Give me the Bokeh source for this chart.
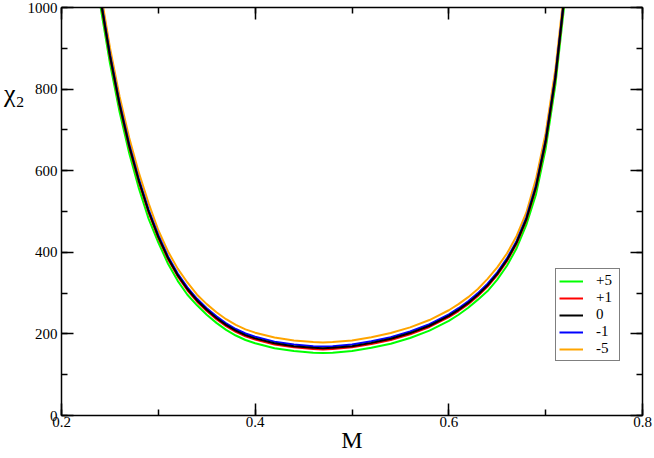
from bokeh.plotting import figure
from bokeh.models import (LinearAxis, SingleIntervalTicker, FixedTicker, Range1d, Legend,
                          LegendItem, CustomJSTickFormatter)
from bokeh.embed import file_html
from bokeh.resources import INLINE

FONT = "Liberation Serif"

M = [0.24, 0.25, 0.26, 0.27, 0.28, 0.29, 0.30, 0.31, 0.32, 0.33, 0.34, 0.35, 0.36, 0.37, 0.38,
     0.39, 0.40, 0.42, 0.44, 0.46, 0.47, 0.48, 0.50, 0.52, 0.54, 0.56, 0.58, 0.60, 0.61, 0.62,
     0.63, 0.64, 0.65, 0.66, 0.67, 0.68, 0.69, 0.70, 0.71, 0.72]

chi_p5 = [1006, 864, 744, 642, 556, 482, 424, 372, 330, 296, 270, 247, 227, 210, 196, 185, 177,
          165, 158, 154, 153, 154, 158, 166, 176, 190, 208, 232, 247, 264, 284, 305, 333, 367,
          410, 467, 542, 654, 810, 1022]
chi_p1 = [1021, 879, 759, 657, 571, 497, 435, 383, 341, 307, 279, 256, 236, 219, 205, 194, 186,
          174, 167, 163, 162, 163, 167, 175, 185, 199, 217, 241, 256, 273, 293, 316, 344, 378,
          421, 478, 557, 669, 825, 1037]
chi_0 = [1024, 882, 762, 660, 574, 500, 438, 386, 344, 310, 282, 259, 239, 222, 208, 197, 189,
         177, 170, 166, 165, 166, 170, 178, 188, 202, 220, 244, 259, 276, 296, 319, 347, 381,
         424, 481, 560, 672, 828, 1040]
chi_m1 = [1028, 886, 766, 664, 578, 504, 442, 390, 348, 314, 286, 263, 243, 226, 212, 201, 193,
          181, 174, 170, 169, 170, 174, 182, 192, 206, 224, 248, 263, 280, 300, 323, 351, 385,
          428, 485, 564, 676, 832, 1044]
chi_m5 = [1044, 902, 782, 680, 594, 520, 454, 402, 360, 326, 296, 273, 253, 236, 222, 211, 203,
          191, 184, 180, 179, 180, 184, 192, 202, 216, 234, 258, 273, 290, 310, 335, 363, 397,
          440, 497, 580, 692, 848, 1060]

labels = ["+5", "+1", "0", "-1", "-5"]
colors = ["#00ff00", "#ff0000", "#000000", "#0000ff", "#ffa500"]
series = [chi_p5, chi_p1, chi_0, chi_m1, chi_m5]

x_ticks = [0.2, 0.4, 0.6, 0.8]
y_ticks = [0, 200, 400, 600, 800, 1000]
y_title = "χ₂"
y_title_at = 790

p = figure(width=654, height=458, output_backend="svg", toolbar_location=None,
           x_range=Range1d(x_ticks[0], x_ticks[-1]), y_range=Range1d(y_ticks[0], y_ticks[-1]),
           min_border_left=59, min_border_right=12, min_border_top=7, min_border_bottom=43)
p.grid.visible = False
p.outline_line_color = None
p.background_fill_color = "white"
p.border_fill_color = "white"


def style(ax, interval, show):
    ax.ticker = SingleIntervalTicker(interval=interval, num_minor_ticks=2)
    ax.major_tick_in = 12
    ax.major_tick_out = 0
    ax.minor_tick_in = 6
    ax.minor_tick_out = 0
    ax.axis_line_width = 1.5
    ax.axis_line_color = "black"
    ax.major_tick_line_width = 1.5
    ax.minor_tick_line_width = 1.5
    ax.major_tick_line_color = "black"
    ax.minor_tick_line_color = "black"
    ax.major_label_text_font = FONT
    ax.major_label_text_font_style = "normal"
    ax.major_label_text_font_size = "15px"
    if show:
        ax.major_label_text_color = "black"
        ax.major_label_standoff = 4
    else:
        ax.major_label_text_color = None
        ax.major_label_standoff = 0


xa = p.xaxis[0]
style(xa, x_ticks[1] - x_ticks[0], True)
xa.major_label_standoff = 1
xa.axis_label = "M"
xa.axis_label_text_font = FONT
xa.axis_label_text_font_size = "24px"
xa.axis_label_text_font_style = "normal"
xa.axis_label_text_color = "black"
xa.axis_label_standoff = -3

ya = p.yaxis[0]
style(ya, y_ticks[1] - y_ticks[0], True)
ya.major_label_standoff = 4

# horizontal y title placed beside the 800 level, as in the reference
yt = LinearAxis(ticker=FixedTicker(ticks=[y_title_at], minor_ticks=[]),
                formatter=CustomJSTickFormatter(code="return '%s'" % y_title))
yt.axis_line_color = None
yt.major_tick_line_color = None
yt.major_tick_in = 0
yt.major_tick_out = 0
yt.minor_tick_in = 0
yt.minor_tick_out = 0
yt.major_label_standoff = 0
yt.major_label_text_font = FONT
yt.major_label_text_font_style = "normal"
yt.major_label_text_font_size = "26px"
yt.major_label_text_color = "black"
p.add_layout(yt, "left")

top = LinearAxis()
style(top, x_ticks[1] - x_ticks[0], False)
p.add_layout(top, "above")
right = LinearAxis()
style(right, y_ticks[1] - y_ticks[0], False)
p.add_layout(right, "right")

draw_order = ["+5", "-5", "+1", "-1", "0"]
lookup = {lab: (col, ys) for lab, col, ys in zip(labels, colors, series)}
rmap = {}
for lab in draw_order:
    col, ys = lookup[lab]
    rmap[lab] = p.line(M, ys, line_color=col, line_width=2)

legend = Legend(items=[LegendItem(label=l, renderers=[rmap[l]]) for l in labels],
                location=(494, 54))
legend.border_line_color = "black"
legend.border_line_width = 1
legend.background_fill_color = "white"
legend.background_fill_alpha = 1
legend.label_text_font = FONT
legend.label_text_font_style = "normal"
legend.label_text_font_size = "15px"
legend.label_text_color = "black"
legend.glyph_width = 24
legend.glyph_height = 16
legend.label_height = 16
legend.label_standoff = 13
legend.spacing = 0
legend.padding = 3
legend.margin = 0
p.add_layout(legend)

open("out.html", "w").write(file_html(p, INLINE))
